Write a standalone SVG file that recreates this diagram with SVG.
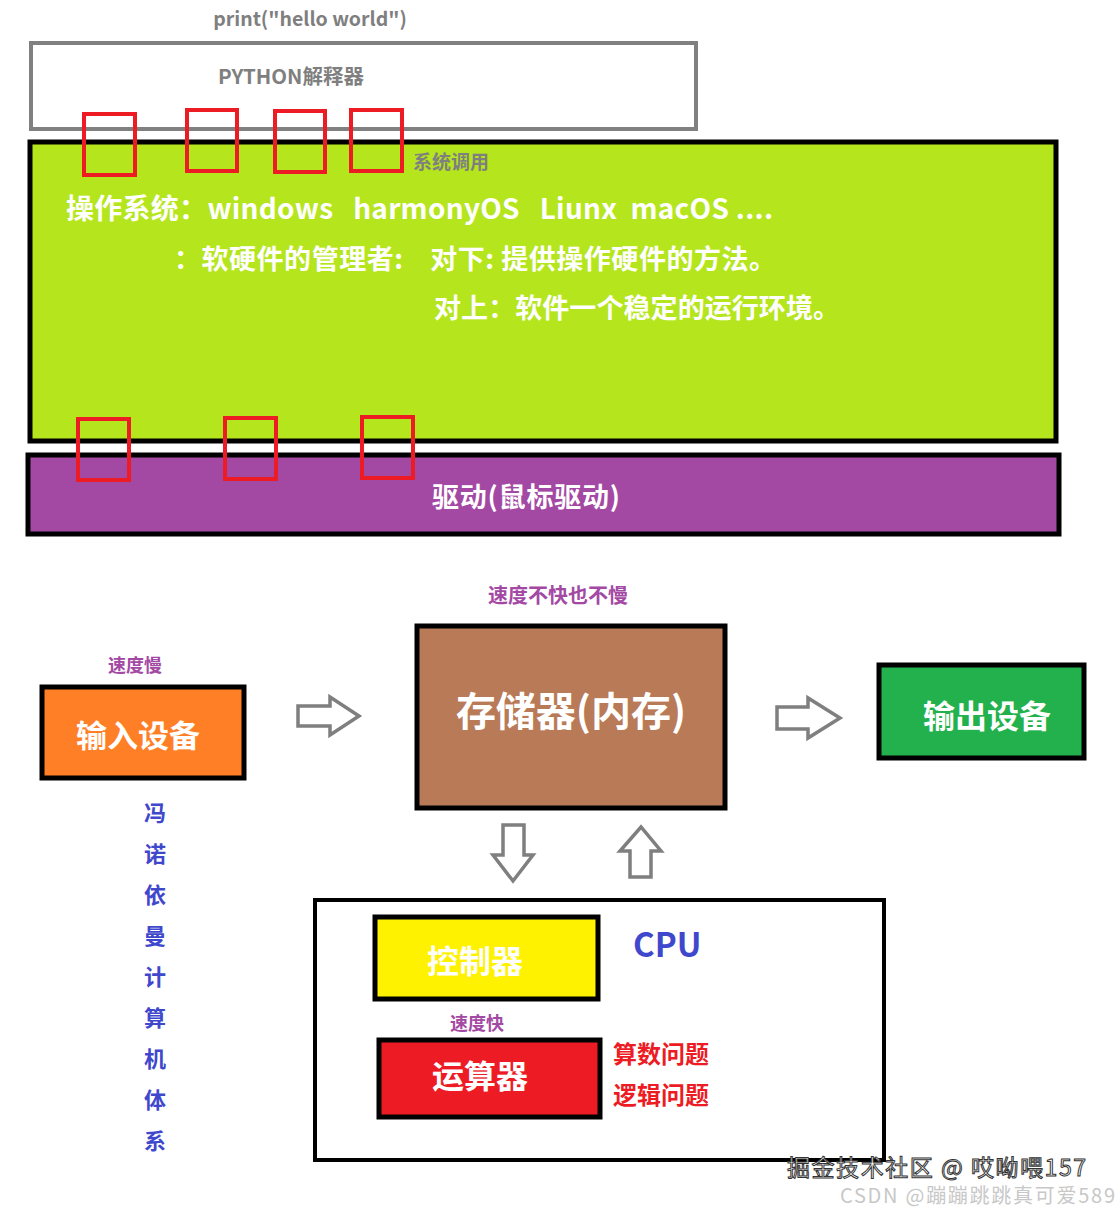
<svg xmlns="http://www.w3.org/2000/svg" width="1119" height="1213" viewBox="0 0 1119 1213">
<style>
text{font-family:"Noto Sans CJK SC","Noto Sans",sans-serif;font-weight:bold}
.w{fill:#fff}
.c{text-anchor:middle}
.g{fill:#7f7f7f}
.p{fill:#a349a4}
.b{fill:#3f48cc}
.rs{fill:none;stroke:#ed1c24;stroke-width:4}
.box{stroke:#000;stroke-width:5}
.arr{fill:#fff;stroke:#7f7f7f;stroke-width:3.5;stroke-linejoin:miter}
</style>
<rect width="1119" height="1213" fill="#fff"/>
<g id="python">
<text x="310" y="26" class="g c" font-size="19.5">print("hello world")</text>
<rect x="31" y="43" width="665" height="86" fill="#fff" stroke="#808080" stroke-width="4"/>
<text x="291" y="84" class="g c" font-size="20.5">PYTHON解释器</text>
</g>
<g id="os">
<rect x="30" y="142" width="1026" height="299" fill="#b5e61d" stroke="#000" stroke-width="5"/>
<text x="413" y="169" class="g" font-size="19">系统调用</text>
<text x="66" y="219" class="w" font-size="28" xml:space="preserve" textLength="707" lengthAdjust="spacing">操作系统：windows   harmonyOS   Liunx  macOS ....</text>
<text x="174" y="269" class="w" font-size="27" xml:space="preserve" textLength="602" lengthAdjust="spacing">：软硬件的管理者:    对下: 提供操作硬件的方法。</text>
<text x="434" y="318" class="w" font-size="27" textLength="406" lengthAdjust="spacing">对上：软件一个稳定的运行环境。</text>
</g>
<g id="driver">
<rect x="28" y="455" width="1031" height="79" fill="#a349a4" stroke="#000" stroke-width="5"/>
<text x="526" y="507" class="w c" font-size="27" textLength="188" lengthAdjust="spacing">驱动(鼠标驱动)</text>
</g>
<g id="calls">
<rect x="84" y="114" width="51" height="61" class="rs"/>
<rect x="187" y="110" width="50" height="61" class="rs"/>
<rect x="275" y="111" width="50" height="61" class="rs"/>
<rect x="351" y="110" width="51" height="61" class="rs"/>
<rect x="78" y="419" width="51" height="61" class="rs"/>
<rect x="225" y="418" width="51" height="61" class="rs"/>
<rect x="362" y="417" width="51" height="61" class="rs"/>
</g>
<g id="input">
<text x="135" y="672" class="p c" font-size="18">速度慢</text>
<rect x="42" y="687" width="202" height="91" fill="#ff7f27" class="box"/>
<text x="138" y="747" class="w c" font-size="31">输入设备</text>
</g>
<g id="memory">
<text x="558" y="603" class="p c" font-size="20">速度不快也不慢</text>
<rect x="417" y="626" width="308" height="182" fill="#b97a57" class="box"/>
<text x="571" y="726" class="w c" font-size="40">存储器(内存)</text>
</g>
<g id="output">
<rect x="879" y="665" width="205" height="93" fill="#22b14c" class="box"/>
<text x="987" y="728" class="w c" font-size="32">输出设备</text>
</g>
<g id="cpu">
<rect x="315" y="900" width="569" height="260" fill="#fff" stroke="#000" stroke-width="4"/>
<text x="633" y="957" class="b" font-size="33">CPU</text>
</g>
<g id="controller">
<rect x="375" y="917" width="223" height="82" fill="#fff200" class="box"/>
<text x="475" y="973" class="w c" font-size="32">控制器</text>
</g>
<g id="alu">
<text x="477" y="1030" class="p c" font-size="18">速度快</text>
<rect x="379" y="1040" width="221" height="77" fill="#ed1c24" class="box"/>
<text x="480" y="1088" class="w c" font-size="32">运算器</text>
<text x="613" y="1063" fill="#ed1c24" font-size="24">算数问题</text>
<text x="613" y="1104" fill="#ed1c24" font-size="24">逻辑问题</text>
</g>
<g id="vonneumann" class="b c" font-size="22">
<text x="155" y="821" class="b c">冯</text>
<text x="155" y="862" class="b c">诺</text>
<text x="155" y="903" class="b c">依</text>
<text x="155" y="944" class="b c">曼</text>
<text x="155" y="985" class="b c">计</text>
<text x="155" y="1026" class="b c">算</text>
<text x="155" y="1067" class="b c">机</text>
<text x="155" y="1108" class="b c">体</text>
<text x="155" y="1149" class="b c">系</text>
</g>
<g id="connectors">
<path class="arr" d="M298,706 H330 V697 L359,716 L330,735 V726 H298 Z"/>
<path class="arr" d="M777,707 H808 V698 L840,718 L808,738 V729 H777 Z"/>
<path class="arr" d="M503,825 H524 V855 H533 L513,881 L493,855 H503 Z"/>
<path class="arr" d="M630,877 H651 V851 H661 L641,827 L620,851 H630 Z"/>
</g>
<g id="watermark">
<text x="787" y="1176" font-size="23" fill="#fff" stroke="#333" stroke-width="1" style="font-weight:normal" textLength="299" lengthAdjust="spacing">掘金技术社区 @ 哎呦喂157</text>
<text x="840" y="1203" font-size="20" fill="#c8c8c8" style="font-weight:normal" textLength="275" lengthAdjust="spacing">CSDN @蹦蹦跳跳真可爱589</text>
</g>
</svg>
